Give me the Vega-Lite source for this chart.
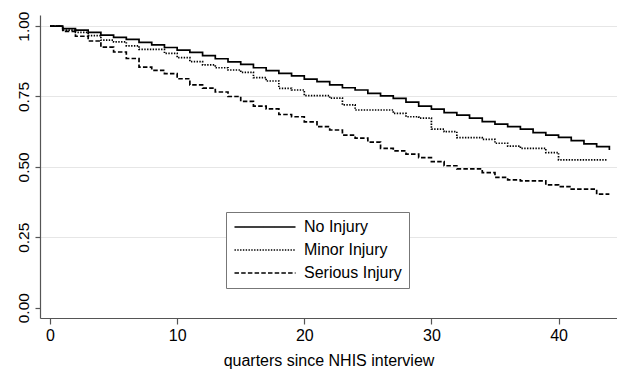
{
  "$schema": "https://vega.github.io/schema/vega-lite/v6.json",
  "autosize": {"type": "none"},
  "padding": {"left": 40, "top": 15, "right": 0, "bottom": 55},
  "width": 577,
  "height": 303,
  "background": "white",
  "config": {
    "view": {"stroke": null},
    "font": "Liberation Sans",
    "axis": {"labelFont": "Liberation Sans", "titleFont": "Liberation Sans", "labelColor": "black", "titleColor": "black", "titleFontWeight": "normal"},
    "legend": {"labelFont": "Liberation Sans"}
  },
  "data": {
    "values": [
      {"q": 0, "s": 1.000, "g": "No Injury"},
      {"q": 1, "s": 0.991, "g": "No Injury"},
      {"q": 2, "s": 0.986, "g": "No Injury"},
      {"q": 3, "s": 0.978, "g": "No Injury"},
      {"q": 4, "s": 0.968, "g": "No Injury"},
      {"q": 5, "s": 0.960, "g": "No Injury"},
      {"q": 6, "s": 0.953, "g": "No Injury"},
      {"q": 7, "s": 0.942, "g": "No Injury"},
      {"q": 8, "s": 0.933, "g": "No Injury"},
      {"q": 9, "s": 0.924, "g": "No Injury"},
      {"q": 10, "s": 0.915, "g": "No Injury"},
      {"q": 11, "s": 0.907, "g": "No Injury"},
      {"q": 12, "s": 0.895, "g": "No Injury"},
      {"q": 13, "s": 0.884, "g": "No Injury"},
      {"q": 14, "s": 0.873, "g": "No Injury"},
      {"q": 15, "s": 0.864, "g": "No Injury"},
      {"q": 16, "s": 0.852, "g": "No Injury"},
      {"q": 17, "s": 0.842, "g": "No Injury"},
      {"q": 18, "s": 0.832, "g": "No Injury"},
      {"q": 19, "s": 0.823, "g": "No Injury"},
      {"q": 20, "s": 0.812, "g": "No Injury"},
      {"q": 21, "s": 0.803, "g": "No Injury"},
      {"q": 22, "s": 0.791, "g": "No Injury"},
      {"q": 23, "s": 0.781, "g": "No Injury"},
      {"q": 24, "s": 0.773, "g": "No Injury"},
      {"q": 25, "s": 0.761, "g": "No Injury"},
      {"q": 26, "s": 0.752, "g": "No Injury"},
      {"q": 27, "s": 0.743, "g": "No Injury"},
      {"q": 28, "s": 0.730, "g": "No Injury"},
      {"q": 29, "s": 0.716, "g": "No Injury"},
      {"q": 30, "s": 0.705, "g": "No Injury"},
      {"q": 31, "s": 0.693, "g": "No Injury"},
      {"q": 32, "s": 0.684, "g": "No Injury"},
      {"q": 33, "s": 0.673, "g": "No Injury"},
      {"q": 34, "s": 0.661, "g": "No Injury"},
      {"q": 35, "s": 0.652, "g": "No Injury"},
      {"q": 36, "s": 0.643, "g": "No Injury"},
      {"q": 37, "s": 0.634, "g": "No Injury"},
      {"q": 38, "s": 0.622, "g": "No Injury"},
      {"q": 39, "s": 0.613, "g": "No Injury"},
      {"q": 40, "s": 0.605, "g": "No Injury"},
      {"q": 41, "s": 0.593, "g": "No Injury"},
      {"q": 42, "s": 0.582, "g": "No Injury"},
      {"q": 43, "s": 0.572, "g": "No Injury"},
      {"q": 44, "s": 0.560, "g": "No Injury"},
      {"q": 0, "s": 1.000, "g": "Minor Injury"},
      {"q": 1, "s": 0.986, "g": "Minor Injury"},
      {"q": 2, "s": 0.978, "g": "Minor Injury"},
      {"q": 3, "s": 0.966, "g": "Minor Injury"},
      {"q": 4, "s": 0.950, "g": "Minor Injury"},
      {"q": 5, "s": 0.944, "g": "Minor Injury"},
      {"q": 6, "s": 0.930, "g": "Minor Injury"},
      {"q": 7, "s": 0.917, "g": "Minor Injury"},
      {"q": 9, "s": 0.903, "g": "Minor Injury"},
      {"q": 10, "s": 0.888, "g": "Minor Injury"},
      {"q": 11, "s": 0.874, "g": "Minor Injury"},
      {"q": 12, "s": 0.862, "g": "Minor Injury"},
      {"q": 13, "s": 0.852, "g": "Minor Injury"},
      {"q": 14, "s": 0.844, "g": "Minor Injury"},
      {"q": 15, "s": 0.836, "g": "Minor Injury"},
      {"q": 16, "s": 0.817, "g": "Minor Injury"},
      {"q": 17, "s": 0.805, "g": "Minor Injury"},
      {"q": 18, "s": 0.779, "g": "Minor Injury"},
      {"q": 19, "s": 0.773, "g": "Minor Injury"},
      {"q": 20, "s": 0.753, "g": "Minor Injury"},
      {"q": 22, "s": 0.744, "g": "Minor Injury"},
      {"q": 23, "s": 0.720, "g": "Minor Injury"},
      {"q": 24, "s": 0.702, "g": "Minor Injury"},
      {"q": 27, "s": 0.690, "g": "Minor Injury"},
      {"q": 28, "s": 0.678, "g": "Minor Injury"},
      {"q": 29, "s": 0.673, "g": "Minor Injury"},
      {"q": 30, "s": 0.634, "g": "Minor Injury"},
      {"q": 31, "s": 0.625, "g": "Minor Injury"},
      {"q": 32, "s": 0.604, "g": "Minor Injury"},
      {"q": 34, "s": 0.598, "g": "Minor Injury"},
      {"q": 35, "s": 0.584, "g": "Minor Injury"},
      {"q": 36, "s": 0.574, "g": "Minor Injury"},
      {"q": 37, "s": 0.566, "g": "Minor Injury"},
      {"q": 39, "s": 0.551, "g": "Minor Injury"},
      {"q": 40, "s": 0.525, "g": "Minor Injury"},
      {"q": 43.8, "s": 0.525, "g": "Minor Injury"},
      {"q": 0, "s": 1.000, "g": "Serious Injury"},
      {"q": 1, "s": 0.981, "g": "Serious Injury"},
      {"q": 2, "s": 0.964, "g": "Serious Injury"},
      {"q": 3, "s": 0.947, "g": "Serious Injury"},
      {"q": 4, "s": 0.925, "g": "Serious Injury"},
      {"q": 5, "s": 0.908, "g": "Serious Injury"},
      {"q": 6, "s": 0.885, "g": "Serious Injury"},
      {"q": 7, "s": 0.854, "g": "Serious Injury"},
      {"q": 8, "s": 0.843, "g": "Serious Injury"},
      {"q": 9, "s": 0.831, "g": "Serious Injury"},
      {"q": 10, "s": 0.813, "g": "Serious Injury"},
      {"q": 11, "s": 0.791, "g": "Serious Injury"},
      {"q": 12, "s": 0.780, "g": "Serious Injury"},
      {"q": 13, "s": 0.766, "g": "Serious Injury"},
      {"q": 14, "s": 0.750, "g": "Serious Injury"},
      {"q": 15, "s": 0.733, "g": "Serious Injury"},
      {"q": 16, "s": 0.716, "g": "Serious Injury"},
      {"q": 17, "s": 0.706, "g": "Serious Injury"},
      {"q": 18, "s": 0.686, "g": "Serious Injury"},
      {"q": 19, "s": 0.678, "g": "Serious Injury"},
      {"q": 20, "s": 0.660, "g": "Serious Injury"},
      {"q": 21, "s": 0.643, "g": "Serious Injury"},
      {"q": 22, "s": 0.631, "g": "Serious Injury"},
      {"q": 23, "s": 0.613, "g": "Serious Injury"},
      {"q": 24, "s": 0.602, "g": "Serious Injury"},
      {"q": 25, "s": 0.588, "g": "Serious Injury"},
      {"q": 26, "s": 0.566, "g": "Serious Injury"},
      {"q": 27, "s": 0.557, "g": "Serious Injury"},
      {"q": 28, "s": 0.545, "g": "Serious Injury"},
      {"q": 29, "s": 0.533, "g": "Serious Injury"},
      {"q": 30, "s": 0.519, "g": "Serious Injury"},
      {"q": 31, "s": 0.504, "g": "Serious Injury"},
      {"q": 32, "s": 0.493, "g": "Serious Injury"},
      {"q": 34, "s": 0.480, "g": "Serious Injury"},
      {"q": 35, "s": 0.463, "g": "Serious Injury"},
      {"q": 36, "s": 0.454, "g": "Serious Injury"},
      {"q": 37, "s": 0.450, "g": "Serious Injury"},
      {"q": 39, "s": 0.436, "g": "Serious Injury"},
      {"q": 40, "s": 0.430, "g": "Serious Injury"},
      {"q": 41, "s": 0.421, "g": "Serious Injury"},
      {"q": 43, "s": 0.403, "g": "Serious Injury"},
      {"q": 44, "s": 0.403, "g": "Serious Injury"}
    ]
  },
  "mark": {"type": "line", "interpolate": "step-after", "color": "black", "strokeWidth": 1.7},
  "encoding": {
    "x": {
      "field": "q", "type": "quantitative",
      "scale": {"domain": [-0.79, 44.6], "nice": false, "zero": false},
      "axis": {
        "values": [0, 10, 20, 30, 40],
        "title": "quarters since NHIS interview",
        "grid": false,
        "domainColor": "#555555", "domainWidth": 1.2,
        "tickColor": "#555555", "tickSize": 6, "tickWidth": 1.2,
        "labelFontSize": 16, "labelPadding": 3,
        "titleFontSize": 16, "titlePadding": 9
      }
    },
    "y": {
      "field": "s", "type": "quantitative",
      "scale": {"domain": [-0.0366, 1.0394], "nice": false, "zero": false},
      "axis": {
        "values": [0, 0.25, 0.5, 0.75, 1],
        "format": ".2f",
        "title": null,
        "grid": true,
        "gridColor": {"condition": {"test": "datum.value === 0", "value": "transparent"}, "value": "#e6e6e6"},
        "gridWidth": 1.2,
        "domainColor": "#555555", "domainWidth": 1.2,
        "tickColor": "#555555", "tickSize": 5, "tickWidth": 1.2,
        "labelAngle": -90, "labelAlign": "center", "labelBaseline": "bottom",
        "labelFontSize": 15.5, "labelPadding": 4
      }
    },
    "strokeDash": {
      "field": "g", "type": "nominal",
      "scale": {"domain": ["No Injury", "Minor Injury", "Serious Injury"], "range": [[1, 0], [1.4, 1.4], [4.5, 2.2]]},
      "legend": {
        "title": null,
        "orient": "none",
        "legendX": 186,
        "legendY": 197,
        "symbolType": "M-5,0H5",
        "symbolSize": 149,
        "symbolOffset": 24,
        "symbolStrokeColor": "black",
        "symbolStrokeWidth": 1.5,
        "symbolFillColor": "transparent",
        "labelFontSize": 16,
        "labelOffset": 31,
        "labelColor": "black",
        "rowPadding": 7,
        "padding": 7,
        "strokeColor": "#777777",
        "fillColor": "white"
      }
    }
  }
}
